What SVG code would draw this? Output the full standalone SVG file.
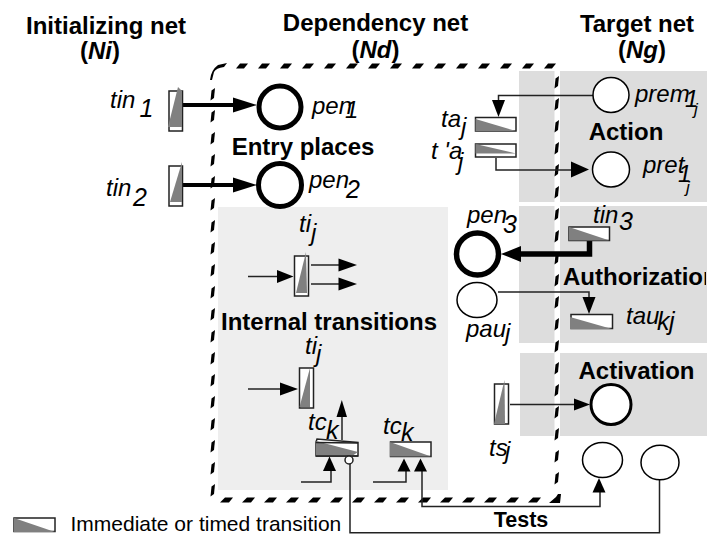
<svg xmlns="http://www.w3.org/2000/svg" width="722" height="534" viewBox="0 0 722 534">
<style>
text{font-family:"Liberation Sans",Arial,sans-serif;fill:#000}
.h{font-size:24px;font-weight:bold;text-anchor:middle}
.i{font-style:italic;font-size:24px}
.l{font-style:italic;font-size:25px}
.u{font-style:italic;font-size:17px}
.t{fill:#fff;stroke:#222;stroke-width:1.5}
.g{fill:#808080}
.pl{fill:#fff;stroke:#000;stroke-width:1.5}
.c{fill:none;stroke:#222;stroke-width:1.5}
.b{fill:none;stroke:#000;stroke-width:4}
.k{fill:#000}
</style>
<defs>
<clipPath id="clipAuth"><rect x="540" y="260" width="166" height="40"/></clipPath>
<pattern id="dl" patternUnits="userSpaceOnUse" x="209" y="88" width="8" height="22"><path d="M1.5 12.5L2.5 2.5L6 0L5 10Z"/></pattern>
<pattern id="dr" patternUnits="userSpaceOnUse" x="553" y="76" width="8" height="22"><path d="M1.5 12.5L2.5 2.5L6 0L5 10Z"/></pattern>
<pattern id="dt" patternUnits="userSpaceOnUse" x="236" y="63" width="22" height="6"><path d="M0 5.5L4 .5H12L8 5.5Z"/></pattern>
<pattern id="db" patternUnits="userSpaceOnUse" x="220" y="497" width="22" height="6"><path d="M0 5.5L5 .5H13L9 5.5Z"/></pattern>
</defs>
<rect width="722" height="534" fill="#fff"/>
<g id="panels">
<rect x="218" y="207" width="230" height="283" fill="#eee"/>
<rect x="519" y="71" width="188" height="131" fill="#ddd"/>
<rect x="519" y="206" width="188" height="137" fill="#ddd"/>
<rect x="520" y="353" width="187" height="83" fill="#ddd"/>
<rect x="554.5" y="71" width="5.5" height="365" fill="#fff"/>
</g>
<g id="boundary">
<rect x="209" y="88" width="8" height="409" fill="url(#dl)"/>
<rect x="553" y="76" width="8" height="410" fill="url(#dr)"/>
<rect x="236" y="63" width="322" height="6" fill="url(#dt)"/>
<rect x="220" y="497" width="321" height="6" fill="url(#db)"/>
<path d="M210 80Q211 70 218 65L227 63L224 67Q216 68 214 72L212 80Z"/>
<path d="M549 503L556 497L558 494H561L560 503Z"/>
</g>
<g id="connectors">
<path class="b" d="M179 105H235"/><path class="k" d="M233 97.500L257 105L233 112.500Z"/>
<path class="b" d="M180 185H235"/><path class="k" d="M233 177.500L257 185L233 192.500Z"/>
<path class="c" d="M593 95.500H498.500V102"/><path class="k" d="M492 100H505L498.500 117Z"/>
<path class="c" d="M496 158V170H573"/><path class="k" d="M571 161.500L589 169.500L571 177.500Z"/>
<path d="M589.500 240V254H515" fill="none" stroke="#000" stroke-width="5.500"/><path class="k" d="M521 246L501 254L521 262Z"/>
<path class="c" d="M498 292H589V300"/><path class="k" d="M582.500 297H595.500L589 314Z"/>
<path class="c" d="M510 404.500H576"/><path class="k" d="M574 398.500L590 404.500L574 410.500Z"/>
<path class="c" d="M248 276.500H280"/><path class="k" d="M277 270L293.500 276.500L277 283Z"/>
<path class="c" d="M311 265H342"/><path class="k" d="M338.500 258.500L357 265L338.500 271.500Z"/>
<path class="c" d="M311 284H342"/><path class="k" d="M338.500 277.500L357 284L338.500 290.500Z"/>
<path class="c" d="M248 389H283"/><path class="k" d="M280 382.500L298 389L280 395.500Z"/>
<path class="c" d="M342 440V415"/><path class="k" d="M341.800 400L347 417H336.500Z"/>
<path class="c" d="M301 482H331V468"/><path class="k" d="M329.500 456.500L336 471H323Z"/>
<path class="c" d="M373 482H406V468"/><path class="k" d="M404 458.500L410.500 471.500H397.500Z"/>
<path class="c" d="M422 468V506.500H600V490"/><path class="k" d="M420.500 458.500L427 471.500H414Z"/><path class="k" d="M599 478L605.500 492.500H592.500Z"/>
<path class="c" d="M659.500 480V532.800H350V464"/>
</g>
<g id="tin1"><rect class="t" x="169" y="91" width="13.500" height="40"/><path class="g" d="M178 87L168 127H182V91Z"/><text class="i" x="110" y="108">tin</text><text class="l" x="139.500" y="117">1</text></g>
<g id="tin2"><rect class="t" x="169" y="166" width="13.500" height="40"/><path class="g" d="M182 162L170 202H182Z"/><text class="i" x="106" y="196">tin</text><text class="l" x="133" y="206">2</text></g>
<g id="pen1"><circle cx="280" cy="107" r="21" fill="#fff" stroke="#000" stroke-width="5"/><text class="i" x="312" y="114">pen</text><text class="i" x="345" y="118">1</text></g>
<g id="pen2"><circle cx="280" cy="185" r="21.500" fill="#fff" stroke="#000" stroke-width="5"/><text class="i" x="309" y="188">pen</text><text class="l" x="346" y="198">2</text></g>
<g id="pen3"><circle cx="477.500" cy="254" r="21" fill="#fff" stroke="#000" stroke-width="5.500"/><text class="i" x="467" y="223">pen</text><text class="l" x="503" y="233">3</text></g>
<g id="ti1"><rect class="t" x="294.500" y="256" width="14" height="40"/><path class="g" d="M306 252L296 293H307Z"/><text class="i" x="299" y="232">ti</text><text class="i" x="311" y="241">j</text></g>
<g id="ti2"><rect class="t" x="299.500" y="368" width="14" height="40"/><path class="g" d="M310 368L299.500 407H310Z"/><text class="i" x="305" y="354">ti</text><text class="i" x="316" y="362">j</text></g>
<g id="tc1"><path class="t" d="M316 442L317 439L358 442.500V456H316Z"/><path class="g" d="M316 441L358 452L352 456H316Z"/><path class="c" d="M316 442.500L358 443M316 456H358"/><circle cx="349" cy="460" r="4" fill="#fff" stroke="#222" stroke-width="1.500"/><text class="i" x="308" y="430">tc</text><text class="l" x="326" y="438.500">k</text></g>
<g id="tc2"><rect class="t" x="390.500" y="442" width="40.500" height="14.500"/><path class="g" d="M390 442V456.500H431Z"/><text class="i" x="383" y="433.500">tc</text><text class="l" x="401" y="440.500">k</text></g>
<g id="ta"><rect class="t" x="475.500" y="117.500" width="40.500" height="13.500"/><path class="g" d="M475.500 119V131H516Z"/><text class="i" x="441" y="127">ta</text><text class="i" x="461" y="135">j</text></g>
<g id="ta2"><rect class="t" x="475.500" y="144" width="40.500" height="13"/><path class="g" d="M475.500 144V153.500H516Z"/><text class="i" x="431" y="159">t 'a</text><text class="i" x="458" y="170">j</text></g>
<g id="tin3"><rect class="t" x="569" y="227" width="40.500" height="13.500"/><path class="g" d="M569 227V240.500H609.500Z"/><text class="i" x="593" y="223">tin</text><text class="l" x="619" y="230">3</text></g>
<g id="tau"><rect class="t" x="571" y="314.500" width="41.500" height="14"/><path class="g" d="M570 317V329H612Z"/><text class="i" x="626" y="324">tau</text><text class="l" x="657" y="330">k</text><text class="l" x="669" y="330">j</text></g>
<g id="ts"><rect class="t" x="494.500" y="384" width="14" height="40"/><path class="g" d="M504.500 380L494 424H505Z"/><text class="i" x="489" y="455.500">ts</text><text class="i" x="505" y="459">j</text></g>
<g id="prem"><ellipse class="pl" cx="611" cy="95" rx="18" ry="17.500"/><text class="i" x="635" y="102">prem</text><text class="i" x="685" y="107">1</text><text class="u" x="694" y="115">j</text></g>
<g id="pret"><ellipse class="pl" cx="611" cy="169.500" rx="18.500" ry="17.500"/><text class="i" x="643" y="173">pret</text><text class="i" x="678" y="182">1</text><text class="u" x="686" y="193">j</text></g>
<g id="pau"><ellipse class="pl" cx="477" cy="300" rx="20" ry="17.500"/><text class="i" x="466" y="337">pau</text><text class="i" x="505" y="341">j</text></g>
<g id="act"><circle cx="611" cy="404.500" r="20" fill="#fff" stroke="#000" stroke-width="3"/></g>
<g id="p1"><ellipse class="pl" cx="602.500" cy="460" rx="20" ry="17.500"/></g>
<g id="p2"><ellipse class="pl" cx="660" cy="462.500" rx="19" ry="17.300"/></g>
<g id="labels">
<text class="h" x="106" y="34">Initializing net</text>
<text class="h" x="100" y="59">(<tspan font-style="italic">Ni</tspan>)</text>
<text class="h" x="375.500" y="31">Dependency net</text>
<text class="h" x="375.500" y="58">(<tspan font-style="italic">Nd</tspan>)</text>
<text class="h" x="637" y="32">Target net</text>
<text class="h" x="642" y="58">(<tspan font-style="italic">Ng</tspan>)</text>
<text class="h" x="303" y="155">Entry places</text>
<text class="h" x="626" y="140">Action</text>
<text class="h" x="329" y="330">Internal transitions</text>
<text class="h" x="563" y="285" style="text-anchor:start" clip-path="url(#clipAuth)">Authorization</text>
<text class="h" x="636.500" y="379">Activation</text>
<text class="h" x="521" y="527" style="font-size:21.500px">Tests</text>
<text x="70.500" y="530.500" style="font-size:21px">Immediate or timed transition</text>
</g>
<g id="legend"><rect class="t" x="14" y="518" width="41" height="13.500"/><path class="g" d="M14 518V532H55Z"/></g>
</svg>
